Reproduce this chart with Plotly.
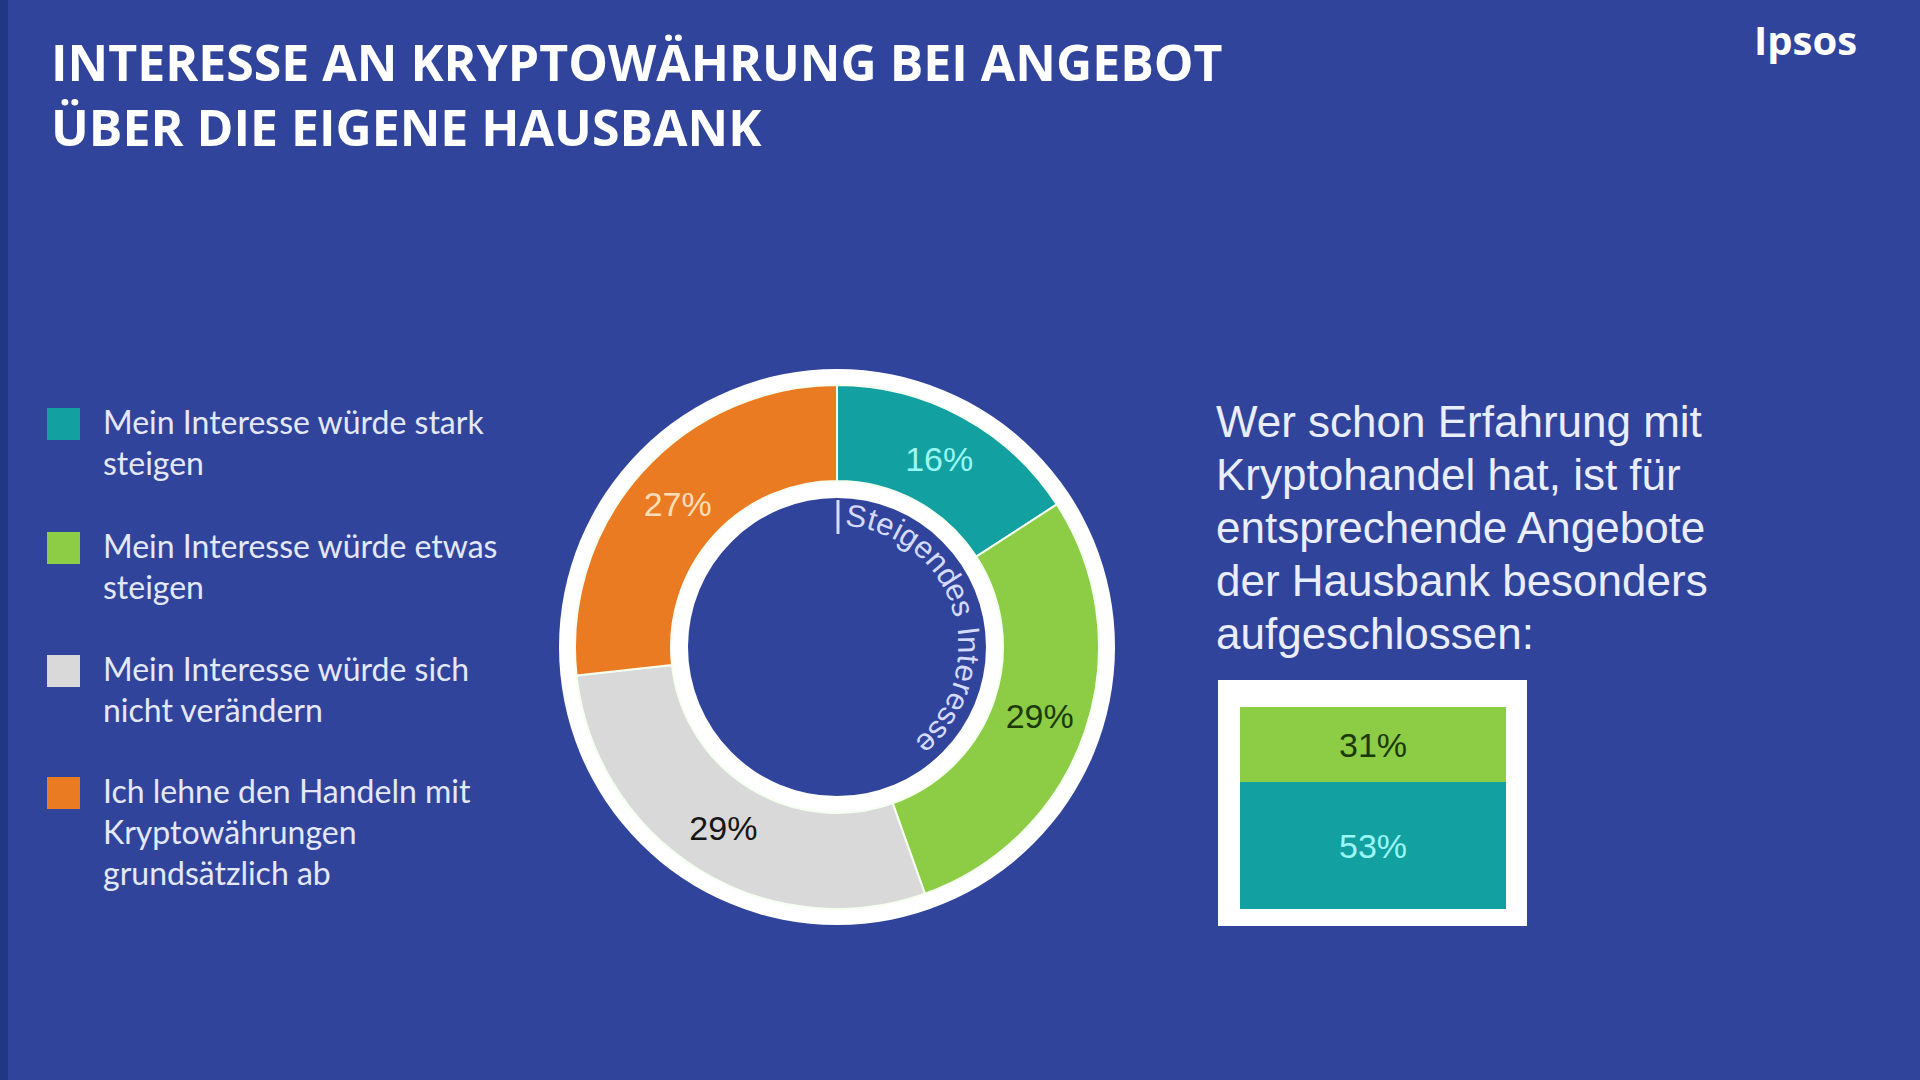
import math
import plotly.graph_objects as go

W, H = 1920, 1080

# ---------------- data ----------------
title_lines = ["INTERESSE AN KRYPTOWÄHRUNG BEI ANGEBOT", "ÜBER DIE EIGENE HAUSBANK"]
brand = "Ipsos"

categories = [
    "Mein Interesse würde stark steigen",
    "Mein Interesse würde etwas steigen",
    "Mein Interesse würde sich nicht verändern",
    "Ich lehne den Handeln mit Kryptowährungen grundsätzlich ab",
]
legend_lines = [
    ["Mein Interesse würde stark", "steigen"],
    ["Mein Interesse würde etwas", "steigen"],
    ["Mein Interesse würde sich", "nicht verändern"],
    ["Ich lehne den Handeln mit", "Kryptowährungen", "grundsätzlich ab"],
]
values = [16, 29, 29, 27]
value_labels = ["16%", "29%", "29%", "27%"]
colors = ["#12A0A0", "#8DCC45", "#D9D9D9", "#EA7B23"]
label_colors = ["#9AF7F5", "#1C3A08", "#161616", "#FFDDB8"]

ring_text = "Steigendes Interesse"

note_lines = [
    "Wer schon Erfahrung mit",
    "Kryptohandel hat, ist für",
    "entsprechende Angebote",
    "der Hausbank besonders",
    "aufgeschlossen:",
]
exp_categories = ["Mein Interesse würde stark steigen", "Mein Interesse würde etwas steigen"]
exp_values = [53, 31]
exp_labels = ["53%", "31%"]
exp_colors = ["#12A0A0", "#8DCC45"]
exp_label_colors = ["#9AF7F5", "#1C3A08"]

# ---------------- styles ----------------
BG = "#31449C"


def px(x):
    return x / W


def py(y):
    return 1 - y / H


def dom(cx, cy, r):
    return dict(x=[px(cx - r), px(cx + r)], y=[py(cy + r), py(cy - r)])


CX, CY = 837, 647
R_WHITE, R_OUT, R_IN, R_DISK = 278, 262, 166, 149

fig = go.Figure()

# white outer ring base
fig.add_trace(go.Pie(values=[1], marker=dict(colors=["#FFFFFF"], line=dict(width=0)),
                     textinfo="none", hoverinfo="skip", sort=False,
                     domain=dom(CX, CY, R_WHITE), showlegend=False))
# main donut
fig.add_trace(go.Pie(labels=categories, values=values, text=value_labels,
                     textinfo="text", textposition="inside",
                     insidetextorientation="horizontal",
                     textfont=dict(family="Liberation Sans, Arial", size=34, color=label_colors),
                     marker=dict(colors=colors, line=dict(color="#F4FFF0", width=2)),
                     hole=R_IN / R_OUT, sort=False, direction="clockwise", rotation=0,
                     domain=dom(CX, CY, R_OUT), showlegend=False,
                     hovertemplate="%{label}: %{text}<extra></extra>"))
# inner blue disk
fig.add_trace(go.Pie(values=[1], marker=dict(colors=[BG], line=dict(width=0)),
                     textinfo="none", hoverinfo="skip", sort=False,
                     domain=dom(CX, CY, R_DISK), showlegend=False))

# stacked bar for experienced traders
for cat, v, lab, c, lc in zip(exp_categories, exp_values, exp_labels, exp_colors, exp_label_colors):
    fig.add_trace(go.Bar(x=["Erfahrung"], y=[v], name=cat, text=[lab],
                         textposition="inside", insidetextanchor="middle", textangle=0,
                         textfont=dict(family="Liberation Sans, Arial", size=34, color=lc),
                         marker=dict(color=c, line=dict(width=0)), showlegend=False,
                         hovertemplate=cat + ": %{text}<extra></extra>"))

annotations = []
shapes = []

# left dark strip
shapes.append(dict(type="rect", xref="paper", yref="paper", x0=0, x1=px(8), y0=0, y1=1,
                   fillcolor="#1E3886", line=dict(width=0), layer="below"))

# title
for t, yc in zip(title_lines, [62, 127]):
    annotations.append(dict(text=t, x=px(49), y=py(yc), xref="paper", yref="paper",
                            xanchor="left", yanchor="middle", showarrow=False,
                            font=dict(family="Open Sans", size=50, color="#FFFFFF", weight="bold")))
annotations.append(dict(text=brand, x=px(1805), y=py(40), xref="paper", yref="paper",
                        xanchor="center", yanchor="middle", showarrow=False,
                        font=dict(family="Open Sans", size=40, color="#FFFFFF", weight="bold")))

# legend (built from categories / colours)
legend_y = [421, 545, 668, 790]
for lines, c, y0 in zip(legend_lines, colors, legend_y):
    shapes.append(dict(type="rect", xref="paper", yref="paper",
                       x0=px(47), x1=px(80), y0=py(y0 + 19), y1=py(y0 - 13),
                       fillcolor=c, line=dict(width=0), layer="below"))
    for j, ln in enumerate(lines):
        annotations.append(dict(text=ln, x=px(101), y=py(y0 + j * 41), xref="paper", yref="paper",
                                xanchor="left", yanchor="middle", showarrow=False,
                                font=dict(family="Lato", size=32, color="#E4E8F8")))

# curved ring text
cw = {"S": 667, "t": 278, "e": 556, "i": 222, "g": 556, "n": 556, "d": 556, "s": 500,
      " ": 278, "I": 278, "r": 333}
track = 60
widths = [cw.get(ch, 556) + track for ch in ring_text]
total = sum(widths)
a0, a1 = 4.0, 141.0
r_txt = 132
acc = 0
for ch, w in zip(ring_text, widths):
    mid = acc + w / 2
    acc += w
    if ch == " ":
        continue
    ang = a0 + (a1 - a0) * mid / total
    th = math.radians(ang)
    x = CX + r_txt * math.sin(th)
    y = CY - r_txt * math.cos(th)
    annotations.append(dict(text=ch, x=px(x), y=py(y), xref="paper", yref="paper",
                            xanchor="center", yanchor="middle", showarrow=False, textangle=ang,
                            font=dict(family="Liberation Sans, Arial", size=31, color="#D5DBFF")))
shapes.append(dict(type="line", xref="paper", yref="paper", x0=px(CX + 1), x1=px(CX + 1),
                   y0=py(500), y1=py(534), line=dict(color="#D5DBFF", width=3)))

# note text
for ln, yc in zip(note_lines, [421, 474, 527, 580, 633]):
    annotations.append(dict(text=ln, x=px(1214), y=py(yc), xref="paper", yref="paper",
                            xanchor="left", yanchor="middle", showarrow=False,
                            font=dict(family="Liberation Sans, Arial", size=44, color="#EAEDFB")))

# white frame behind stacked bar
shapes.append(dict(type="rect", xref="paper", yref="paper", x0=px(1218), x1=px(1527),
                   y0=py(926), y1=py(680), fillcolor="#FFFFFF", line=dict(width=0), layer="below"))

fig.update_layout(
    width=W, height=H, margin=dict(l=0, r=0, t=0, b=0),
    paper_bgcolor=BG, plot_bgcolor="rgba(0,0,0,0)",
    barmode="stack", bargap=0,
    xaxis=dict(domain=[px(1240), px(1506)], visible=False, range=[-0.5, 0.5], fixedrange=True),
    yaxis=dict(domain=[py(909), py(707)], visible=False, range=[0, sum(exp_values)], fixedrange=True),
    annotations=annotations, shapes=shapes, showlegend=False,
)

fig.write_html("out.html", config={"displayModeBar": False},
               post_script="document.body.style.margin='0';document.body.style.overflow='hidden';")
